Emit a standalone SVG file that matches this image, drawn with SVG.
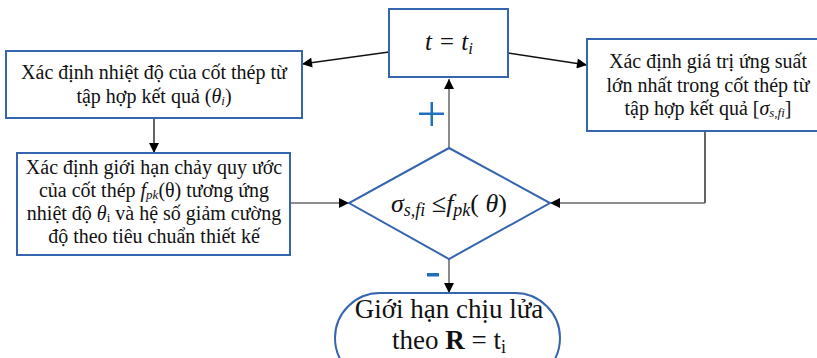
<svg xmlns="http://www.w3.org/2000/svg" width="817" height="358" viewBox="0 0 817 358">
<style>
.box{fill:#fff;stroke:#3565AE;stroke-width:2}
.t{font-size:20px;fill:#111;text-anchor:middle}
.ln{stroke:#111;stroke-width:1.3;fill:none}
.lg{stroke:#666;stroke-width:1.5;fill:none}
.sg{fill:#1F6FBF}
</style>
<defs>
<marker id="ah" viewBox="0 0 10 10" refX="10" refY="5" markerWidth="10" markerHeight="10" markerUnits="userSpaceOnUse" orient="auto">
<path d="M0,0 L10,5 L0,10 z" fill="#000"/>
</marker>
<marker id="ah2" viewBox="0 0 10 10" refX="10" refY="5" markerWidth="14" markerHeight="10" markerUnits="userSpaceOnUse" orient="auto">
<path d="M0,0 L10,5 L0,10 z" fill="#000"/>
</marker>
</defs>
<g id="connectors">
<path class="ln" d="M389,52 L302,64" marker-end="url(#ah2)"/>
<path class="ln" d="M508,53 L587,65" marker-end="url(#ah2)"/>
<path class="ln" d="M154,119 L154,153" marker-end="url(#ah)"/>
<path class="lg" d="M290,203 L349,203" marker-end="url(#ah2)"/>
<path class="ln" d="M705,131 L705,203"/>
<path class="lg" d="M705,203 L550,203" marker-end="url(#ah2)"/>
<path class="lg" d="M449,148 L449,79" marker-end="url(#ah)"/>
<path class="lg" d="M449,259 L449,293" marker-end="url(#ah)"/>
<g id="plus" class="sg"><rect x="419" y="112.5" width="25" height="2.5"/><rect x="430.5" y="102" width="2.5" height="24"/></g>
<rect id="minus" class="sg" x="427" y="273" width="12" height="3.5"/>
</g>
<g font-family="Liberation Serif, Times New Roman, serif">
<g id="n_t">
<rect class="box" x="389" y="9" width="119" height="68"/>
<text x="449" y="50" font-size="25" font-style="italic" text-anchor="middle" fill="#111">t = t<tspan font-size="17" dy="4">i</tspan></text>
</g>
<g id="n_left">
<rect class="box" x="6" y="51" width="296" height="67"/>
<text class="t" x="154" y="79">Xác định nhiệt độ của cốt thép từ</text>
<text class="t" x="154" y="103">tập hợp kết quả (<tspan font-style="italic">θ<tspan font-size="13" dy="2">i</tspan></tspan><tspan dy="-2">)</tspan></text>
</g>
<g id="n_right">
<rect class="box" x="587" y="39" width="245" height="92"/>
<text class="t" x="708" y="68">Xác định giá trị ứng suất</text>
<text class="t" x="708" y="92">lớn nhất trong cốt thép từ</text>
<text class="t" x="708" y="115">tập hợp kết quả [<tspan font-style="italic">σ<tspan font-size="13" dy="2">s,fi</tspan></tspan><tspan dy="-2">]</tspan></text>
</g>
<g id="n_mid">
<rect class="box" x="17" y="153" width="273" height="102" stroke-width="1.3"/>
<text class="t" x="154" y="174">Xác định giới hạn chảy quy ước</text>
<text class="t" x="154" y="197">của cốt thép <tspan font-style="italic">f<tspan font-size="13" dy="2">pk</tspan></tspan><tspan dy="-2">(θ) tương ứng</tspan></text>
<text class="t" x="154" y="220">nhiệt độ <tspan font-style="italic">θ</tspan><tspan font-size="13" dy="2">i</tspan><tspan dy="-2"> và hệ số giảm cường</tspan></text>
<text class="t" x="154" y="243">độ theo tiêu chuẩn thiết kế</text>
</g>
<g id="n_dec">
<polygon class="box" points="449,148 550,203 449,259 349,203" stroke-width="1.6"/>
<text x="449" y="212" font-size="26" text-anchor="middle" fill="#111"><tspan font-style="italic">σ<tspan font-size="18" dy="4">s,fi</tspan></tspan><tspan dy="-4"> ≤</tspan><tspan font-style="italic">f<tspan font-size="18" dy="4">pk</tspan></tspan><tspan dy="-4">( </tspan><tspan font-style="italic">θ</tspan>)</text>
</g>
<g id="n_end">
<rect class="box" x="335" y="293" width="225" height="90" rx="45" ry="45" stroke-width="1.6"/>
<text x="449" y="318" font-size="27" text-anchor="middle" fill="#111">Giới hạn chịu lửa</text>
<text x="449" y="349" font-size="27" text-anchor="middle" fill="#111">theo <tspan font-weight="bold">R</tspan> = t<tspan font-size="18" dy="4">i</tspan></text>
</g>
</g>
</svg>
